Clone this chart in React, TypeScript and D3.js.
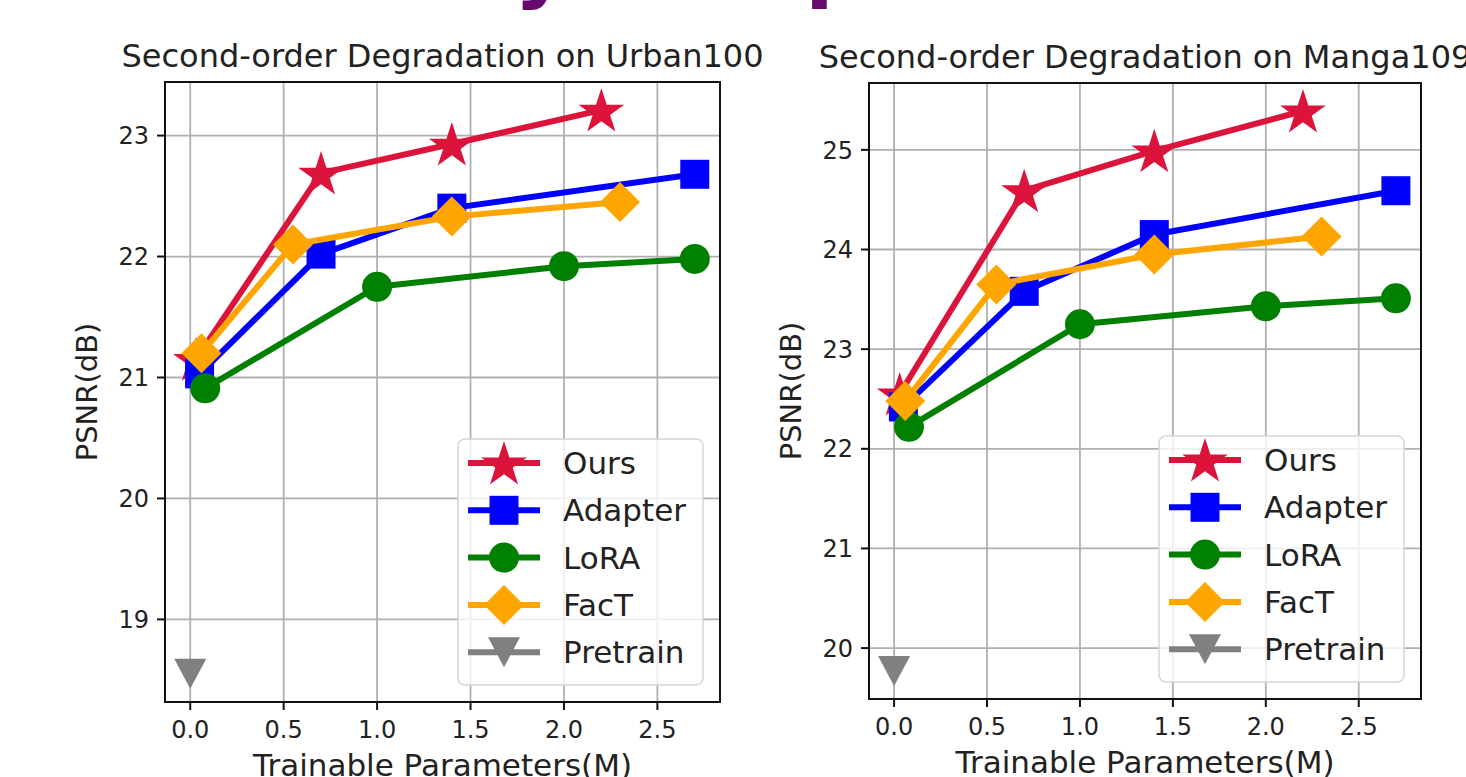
import React from 'react'
import * as d3 from 'd3'

// series in legend order
const methods = ['Ours', 'Adapter', 'LoRA', 'FacT', 'Pretrain']
const colors = ['#dc143c', '#0000ff', '#008000', '#ffa500', '#808080']
const markerKinds = ['star', 'square', 'circle', 'diamond', 'triangle']

// trainable parameters (M)
const oursParams = [0.03, 0.7, 1.4, 2.2]
const adapterParams = [0.05, 0.7, 1.4, 2.7]
const loraParams = [0.08, 1.0, 2.0, 2.7]
const factParams = [0.06, 0.55, 1.4, 2.3]
const pretrainParams = [0.0]

// PSNR on Urban100
const urbanOurs = [21.15, 22.69, 22.93, 23.21]
const urbanAdapter = [21.03, 22.02, 22.4, 22.68]
const urbanLora = [20.91, 21.75, 21.92, 21.98]
const urbanFact = [21.2, 22.1, 22.33, 22.45]
const urbanPretrain = [18.55]

// PSNR on Manga109
const mangaOurs = [22.55, 24.59, 24.99, 25.39]
const mangaAdapter = [22.42, 23.58, 24.15, 24.59]
const mangaLora = [22.22, 23.25, 23.43, 23.51]
const mangaFact = [22.48, 23.65, 23.95, 24.13]
const mangaPretrain = [19.77]

const xTicks = [0, 0.5, 1.0, 1.5, 2.0, 2.5]
const urbanTicks = [19, 20, 21, 22, 23]
const mangaTicks = [20, 21, 22, 23, 24, 25]

const params = [oursParams, adapterParams, loraParams, factParams, pretrainParams]
const FONT = 'DejaVu Sans, sans-serif'

const poly = d3.line().curve(d3.curveLinearClosed)

function markerPath(kind: string, scale = 1) {
  if (kind === 'star') {
    const R = 24 * scale, r = R * 0.382
    const pts = d3.range(10).map(i => {
      const a = -Math.PI / 2 + (i * Math.PI) / 5
      const rad = i % 2 === 0 ? R : r
      return [rad * Math.cos(a), rad * Math.sin(a) + 2 * scale] as [number, number]
    })
    return poly(pts)
  }
  if (kind === 'square') {
    const h = 14.5 * scale
    return poly([[-h, -h], [h, -h], [h, h], [-h, h]])
  }
  if (kind === 'diamond') {
    const h = 20 * scale
    return poly([[0, -h], [h, 0], [0, h], [-h, 0]])
  }
  if (kind === 'triangle') {
    const w = 16 * scale, h = 15 * scale
    return poly([[-w, -h], [w, -h], [0, h]])
  }
  return d3.arc()({ innerRadius: 0, outerRadius: 15 * scale, startAngle: 0, endAngle: 2 * Math.PI })
}

type Rect = { x0: number; x1: number; y0: number; y1: number }

function Panel({ title, values, ticks, rect }: { title: string; values: number[][]; ticks: number[]; rect: Rect }) {
  const allX = params.flat()
  const allY = values.flat()
  const [xmin, xmax] = d3.extent(allX) as [number, number]
  const [ymin, ymax] = d3.extent(allY) as [number, number]
  const xp = (xmax - xmin) * 0.05
  const yp = (ymax - ymin) * 0.05
  const x = d3.scaleLinear().domain([xmin - xp, xmax + xp]).range([rect.x0, rect.x1])
  const y = d3.scaleLinear().domain([ymin - yp, ymax + yp]).range([rect.y1, rect.y0])
  const line = d3.line<[number, number]>().x(d => x(d[0])).y(d => y(d[1]))
  const cx = (rect.x0 + rect.x1) / 2
  const cy = (rect.y0 + rect.y1) / 2
  const lw = 245, lh = 246
  const lx = rect.x1 - 17 - lw
  const ly = rect.y1 - 17 - lh

  return (
    <g fontFamily={FONT} fill="#222">
      <rect x={rect.x0} y={rect.y0} width={rect.x1 - rect.x0} height={rect.y1 - rect.y0} fill="#fff" />
      {xTicks.map(t => (
        <line key={'gx' + t} x1={x(t)} x2={x(t)} y1={rect.y0} y2={rect.y1} stroke="#b0b0b0" strokeWidth={1.8} />
      ))}
      {ticks.map(t => (
        <line key={'gy' + t} x1={rect.x0} x2={rect.x1} y1={y(t)} y2={y(t)} stroke="#b0b0b0" strokeWidth={1.8} />
      ))}
      {methods.map((m, i) => {
        const pts = params[i].map((p, j) => [p, values[i][j]] as [number, number])
        return (
          <g key={m}>
            {pts.length > 1 && (
              <path d={line(pts) || ''} fill="none" stroke={colors[i]} strokeWidth={6} strokeLinejoin="round" />
            )}
            {pts.map((p, j) => (
              <path key={j} d={markerPath(markerKinds[i]) || ''} transform={`translate(${x(p[0])},${y(p[1])})`} fill={colors[i]} />
            ))}
          </g>
        )
      })}
      <rect x={rect.x0} y={rect.y0} width={rect.x1 - rect.x0} height={rect.y1 - rect.y0} fill="none" stroke="#111" strokeWidth={2} />
      {xTicks.map(t => (
        <g key={'tx' + t}>
          <line x1={x(t)} x2={x(t)} y1={rect.y1} y2={rect.y1 + 8} stroke="#111" strokeWidth={2} />
          <text x={x(t)} y={rect.y1 + 36} textAnchor="middle" fontSize={24}>{d3.format('.1f')(t)}</text>
        </g>
      ))}
      {ticks.map(t => (
        <g key={'ty' + t}>
          <line x1={rect.x0 - 8} x2={rect.x0} y1={y(t)} y2={y(t)} stroke="#111" strokeWidth={2} />
          <text x={rect.x0 - 16} y={y(t)} dy="0.36em" textAnchor="end" fontSize={24}>{t}</text>
        </g>
      ))}
      <text x={cx} y={rect.y0 - 15} textAnchor="middle" fontSize={32}>{title}</text>
      <text x={cx} y={rect.y1 + 74} textAnchor="middle" fontSize={31}>Trainable Parameters(M)</text>
      <text transform={`translate(${rect.x0 - 68},${cy}) rotate(-90)`} textAnchor="middle" fontSize={29}>PSNR(dB)</text>
      <g>
        <rect x={lx} y={ly} width={lw} height={lh} rx={7} fill="#fff" fillOpacity={0.8} stroke="#d6d6d6" strokeWidth={1.5} />
        {methods.map((m, i) => {
          const ey = ly + 24 + i * 47.3
          return (
            <g key={'lg' + m}>
              <line x1={lx + 10} x2={lx + 82} y1={ey} y2={ey} stroke={colors[i]} strokeWidth={6} />
              <path d={markerPath(markerKinds[i]) || ''} transform={`translate(${lx + 46},${ey})`} fill={colors[i]} />
              <text x={lx + 105} y={ey + 11} fontSize={31}>{m}</text>
            </g>
          )
        })}
      </g>
    </g>
  )
}

export default function App() {
  return (
    <svg width={1466} height={777} style={{ position: 'absolute', left: 0, top: 0, background: '#fff' }}>
      <text x={118} y={-8} fontFamily={FONT} fontWeight="bold" fontSize={84} fill="#660a6e">Efficiency Comparison</text>
      <Panel
        title="Second-order Degradation on Urban100"
        values={[urbanOurs, urbanAdapter, urbanLora, urbanFact, urbanPretrain]}
        ticks={urbanTicks}
        rect={{ x0: 165, x1: 720, y0: 82, y1: 702 }}
      />
      <Panel
        title="Second-order Degradation on Manga109"
        values={[mangaOurs, mangaAdapter, mangaLora, mangaFact, mangaPretrain]}
        ticks={mangaTicks}
        rect={{ x0: 869, x1: 1421, y0: 83, y1: 699 }}
      />
    </svg>
  )
}
